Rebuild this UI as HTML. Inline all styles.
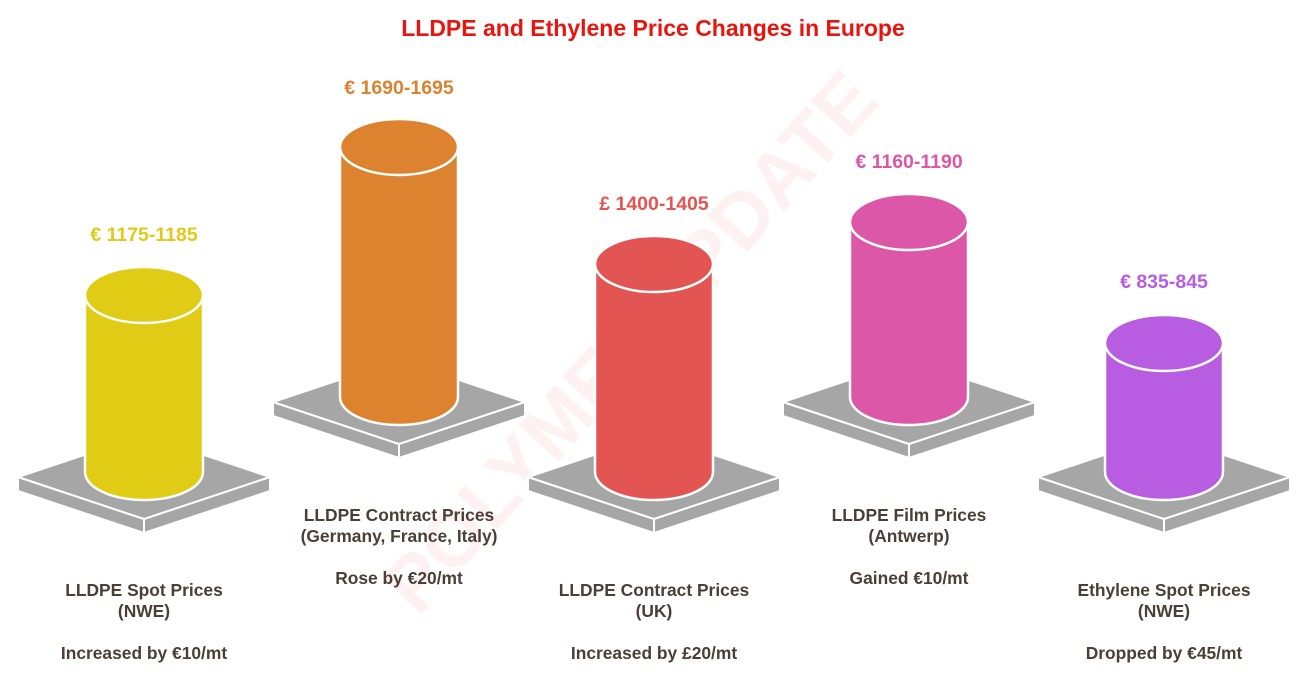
<!DOCTYPE html>
<html><head><meta charset="utf-8"><style>
body{margin:0;background:#fff;}
svg{display:block;font-family:"Liberation Sans",sans-serif;font-weight:bold;}
</style></head><body>
<svg width="1306" height="690" viewBox="0 0 1306 690" xmlns="http://www.w3.org/2000/svg">
<defs>
<g id="plat">
<polygon points="-126,0 0,42 0,56 -126,14" fill="#a6a6a6" stroke="#fff" stroke-width="2"/>
<polygon points="0,42 126,0 126,14 0,56" fill="#a6a6a6" stroke="#fff" stroke-width="2"/>
<polygon points="-126,0 0,-42 126,0 0,42" fill="#a6a6a6" stroke="#fff" stroke-width="2"/>
</g>
</defs>
<text x="653" y="36" text-anchor="middle" font-size="23" fill="#e8150f">LLDPE and Ethylene Price Changes in Europe</text>

<!-- watermark -->
<g opacity="0.06" transform="translate(650,360) rotate(-48)">
<text x="0" y="0" text-anchor="middle" font-size="78" fill="#e22">POLYMERUPDATE</text>
</g>

<!-- 1 -->
<g transform="translate(144,477)"><use href="#plat"/></g>
<path d="M85,295 L85,472 A59,28 0 0 0 203,472 L203,295 Z" fill="#e0cb15" stroke="#fff" stroke-width="2.5"/>
<ellipse cx="144" cy="295" rx="59" ry="28" fill="#e0cb15" stroke="#fff" stroke-width="2.5"/>
<text x="144" y="241" text-anchor="middle" font-size="19.5" fill="#e0c918">€ 1175-1185</text>

<!-- 2 -->
<g transform="translate(399,402)"><use href="#plat"/></g>
<path d="M340,147 L340,397 A59,28 0 0 0 458,397 L458,147 Z" fill="#dd832f" stroke="#fff" stroke-width="2.5"/>
<ellipse cx="399" cy="147" rx="59" ry="28" fill="#dd832f" stroke="#fff" stroke-width="2.5"/>
<text x="399" y="94" text-anchor="middle" font-size="19.5" fill="#dc8330">€ 1690-1695</text>

<!-- 3 -->
<g transform="translate(654,477)"><use href="#plat"/></g>
<path d="M595,264 L595,472 A59,28 0 0 0 713,472 L713,264 Z" fill="#e25553" stroke="#fff" stroke-width="2.5"/>
<ellipse cx="654" cy="264" rx="59" ry="28" fill="#e25553" stroke="#fff" stroke-width="2.5"/>
<text x="654" y="210" text-anchor="middle" font-size="19.5" fill="#e25553">£ 1400-1405</text>

<!-- 4 -->
<g transform="translate(909,402)"><use href="#plat"/></g>
<path d="M850,222 L850,397 A59,28 0 0 0 968,397 L968,222 Z" fill="#dc57a7" stroke="#fff" stroke-width="2.5"/>
<ellipse cx="909" cy="222" rx="59" ry="28" fill="#dc57a7" stroke="#fff" stroke-width="2.5"/>
<text x="909" y="168" text-anchor="middle" font-size="19.5" fill="#dc57a7">€ 1160-1190</text>

<!-- 5 -->
<g transform="translate(1164,477)"><use href="#plat"/></g>
<path d="M1105,343 L1105,472 A59,28 0 0 0 1223,472 L1223,343 Z" fill="#b85ce2" stroke="#fff" stroke-width="2.5"/>
<ellipse cx="1164" cy="343" rx="59" ry="28" fill="#b85ce2" stroke="#fff" stroke-width="2.5"/>
<text x="1164" y="288" text-anchor="middle" font-size="19.5" fill="#b85ce2">€ 835-845</text>

<g font-size="17.4" fill="#4a4038" text-anchor="middle">
<text x="144" y="596">LLDPE Spot Prices</text>
<text x="144" y="617">(NWE)</text>
<text x="144" y="659">Increased by €10/mt</text>
<text x="399" y="521">LLDPE Contract Prices</text>
<text x="399" y="542">(Germany, France, Italy)</text>
<text x="399" y="584">Rose by €20/mt</text>
<text x="654" y="596">LLDPE Contract Prices</text>
<text x="654" y="617">(UK)</text>
<text x="654" y="659">Increased by £20/mt</text>
<text x="909" y="521">LLDPE Film Prices</text>
<text x="909" y="542">(Antwerp)</text>
<text x="909" y="584">Gained €10/mt</text>
<text x="1164" y="596">Ethylene Spot Prices</text>
<text x="1164" y="617">(NWE)</text>
<text x="1164" y="659">Dropped by €45/mt</text>
</g>
</svg>
</body></html>
